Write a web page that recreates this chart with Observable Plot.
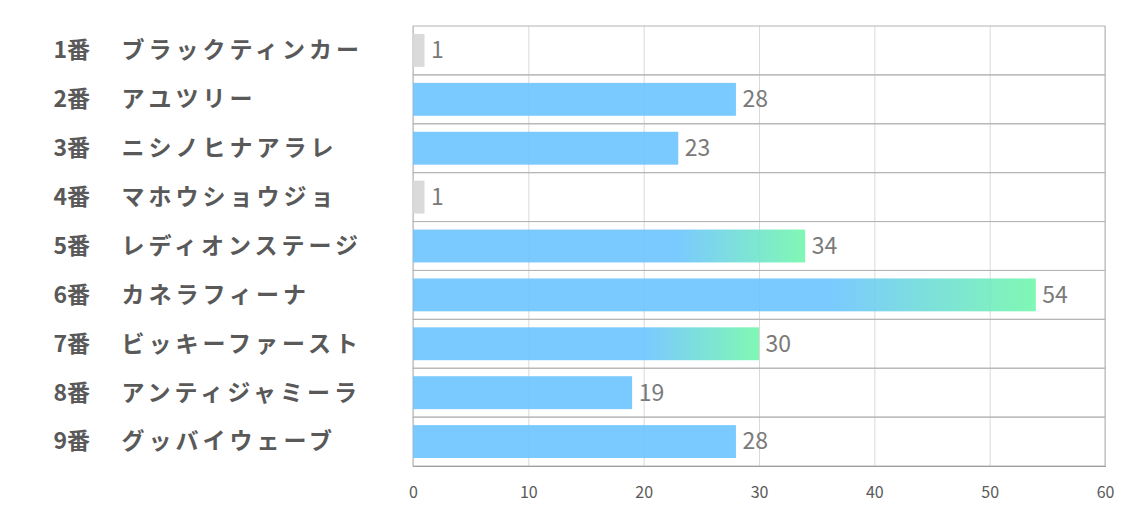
<!DOCTYPE html>
<html>
<head>
<meta charset="utf-8">
<script src="https://cdn.jsdelivr.net/npm/d3@7"></script>
<script src="https://cdn.jsdelivr.net/npm/@observablehq/plot@0.6"></script>
<style>
  html, body { margin: 0; padding: 0; background: #fff; }
  svg { font-family: "Noto Sans CJK JP", "Noto Sans", sans-serif; }
</style>
</head>
<body>
<div id="chart"></div>
<script>
const numbers = ["1番", "2番", "3番", "4番", "5番", "6番", "7番", "8番", "9番"];
const names = ["ブラックティンカー", "アユツリー", "ニシノヒナアラレ", "マホウショウジョ", "レディオンステージ", "カネラフィーナ", "ビッキーファースト", "アンティジャミーラ", "グッバイウェーブ"];
const values = [1, 28, 23, 1, 34, 54, 30, 19, 28];
const kinds = ["gray", "blue", "blue", "gray", "grad", "grad", "grad", "blue", "blue"];
const xTicks = [0, 10, 20, 30, 40, 50, 60];

const data = numbers.map((n, i) => ({key: n, name: names[i], value: values[i], kind: kinds[i]}));
const fillFor = {gray: "#d6d6d6", blue: "#6cc4ff", grad: "url(#barGrad)"};

const defs = () => {
  const ns = "http://www.w3.org/2000/svg";
  const d = document.createElementNS(ns, "defs");
  d.innerHTML = `<linearGradient id="barGrad" x1="0" y1="0" x2="1" y2="0">
    <stop offset="0.67" stop-color="#6cc4ff"/>
    <stop offset="1" stop-color="#72f7ac"/>
  </linearGradient>`;
  return d;
};

const chart = Plot.plot({
  width: 1134,
  height: 510,
  marginLeft: 413,
  marginRight: 29,
  marginTop: 26,
  marginBottom: 44,
  style: {fontFamily: '"Noto Sans CJK JP", "Noto Sans", sans-serif', background: "#fff"},
  x: {domain: [0, 60], ticks: xTicks, axis: null},
  y: {domain: numbers, padding: 0, round: false, axis: null},
  marks: [
    defs,
    Plot.ruleX(xTicks, {stroke: "#d9d9d9"}),
    Plot.barX(numbers, {y: d => d, x1: 0, x2: 60, fill: "none", stroke: "#b4b4b4", strokeWidth: 1}),
    Plot.barX(data, {
      y: "key", x: "value",
      fill: d => fillFor[d.kind],
      fillOpacity: 0.9,
      insetTop: 8, insetBottom: 8
    }),
    Plot.text(data, {
      y: "key", x: "value", text: d => String(d.value),
      textAnchor: "start", dx: 6, fontSize: 23, fill: "#7a7a7a"
    }),
    Plot.text(data, {
      y: "key", text: "key", frameAnchor: "left", textAnchor: "start",
      dx: -360, fontSize: 23, fontWeight: "bold", fill: "#595959"
    }),
    Plot.text(data, {
      y: "key", text: "name", frameAnchor: "left", textAnchor: "start",
      dx: -292, fontSize: 23, fontWeight: "bold", fill: "#595959"
    }),
    Plot.text(xTicks, {
      x: d => d, text: d => String(d), frameAnchor: "bottom",
      lineAnchor: "middle", dy: 26, fontSize: 16, fill: "#595959"
    }),
    Plot.frame({anchor: "bottom", stroke: "#a0a0a0"})
  ]
});
document.getElementById("chart").appendChild(chart);
d3.select(chart).selectAll("text").each(function () {
  if (names.includes(this.textContent)) {
    this.setAttribute("letter-spacing", "4");
    this.style.letterSpacing = "4px";
  }
});
</script>
</body>
</html>
